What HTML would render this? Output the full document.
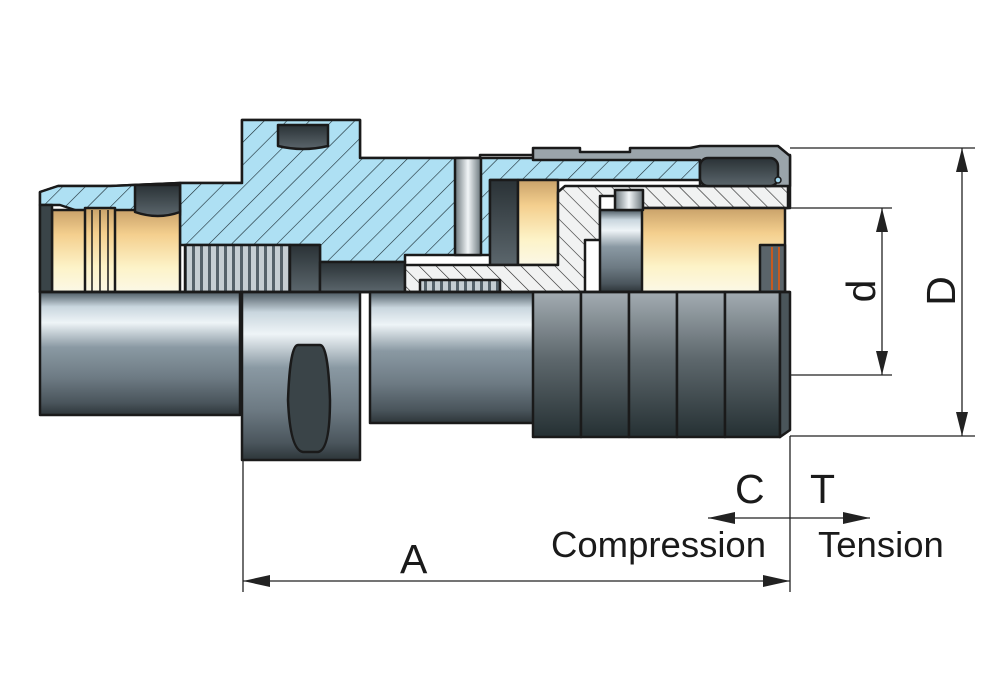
<!DOCTYPE html>
<html><head><meta charset="utf-8"><style>
html,body{margin:0;padding:0;background:#fff;width:1000px;height:694px;overflow:hidden}
svg{display:block}
text{font-family:"Liberation Sans",Arial,sans-serif;fill:#1a1a1a}
</style></head><body>
<svg width="1000" height="694" viewBox="0 0 1000 694" xmlns="http://www.w3.org/2000/svg">
<defs>
<linearGradient id="steel" x1="0" y1="0" x2="0" y2="1">
<stop offset="0" stop-color="#4d5a63"/><stop offset="0.12" stop-color="#c9d6de"/><stop offset="0.25" stop-color="#eef4f7"/><stop offset="0.45" stop-color="#8a99a3"/><stop offset="0.7" stop-color="#6d7a83"/><stop offset="0.9" stop-color="#4a555c"/><stop offset="1" stop-color="#2d3539"/></linearGradient>
<linearGradient id="dark" x1="0" y1="0" x2="0" y2="1">
<stop offset="0" stop-color="#a3acb2"/><stop offset="0.45" stop-color="#5f696e"/><stop offset="1" stop-color="#253033"/></linearGradient>
<linearGradient id="cream" x1="0" y1="0" x2="0" y2="1">
<stop offset="0" stop-color="#c9a26a"/><stop offset="0.3" stop-color="#f4cf8e"/><stop offset="0.7" stop-color="#fdf3c8"/><stop offset="1" stop-color="#fbf8e6"/></linearGradient>
<linearGradient id="pin" x1="0" y1="0" x2="1" y2="0">
<stop offset="0" stop-color="#6a757b"/><stop offset="0.5" stop-color="#f2f6f8"/><stop offset="1" stop-color="#6a757b"/></linearGradient>
<linearGradient id="blk" x1="0" y1="0" x2="0" y2="1">
<stop offset="0" stop-color="#2a3236"/><stop offset="1" stop-color="#5b666c"/></linearGradient>
<pattern id="hb" width="16" height="16" patternUnits="userSpaceOnUse" patternTransform="rotate(45)">
<rect width="16" height="16" fill="#aee0f3"/><line x1="0" y1="0" x2="0" y2="16" stroke="#1a2a30" stroke-width="1.2"/></pattern>
<pattern id="hw" width="12" height="12" patternUnits="userSpaceOnUse" patternTransform="rotate(-45)">
<rect width="12" height="12" fill="#f1f2f2"/><line x1="0" y1="0" x2="0" y2="12" stroke="#222" stroke-width="1.2"/></pattern>
<pattern id="knurl" width="8" height="10" patternUnits="userSpaceOnUse">
<rect width="8" height="10" fill="#c5ced3"/><rect x="0" width="3" height="10" fill="#55626a"/></pattern>
</defs>
<g stroke="#1a1a1a" stroke-width="2.5" stroke-linejoin="round">
<path d="M40 192 L58 186 L110 186 L180 183 L242 183 L242 120 L360 120 L360 158 L480 158 L480 155 L790 155 L790 208 L640 208 L640 292 L40 292 Z" fill="#fff"/>
<path d="M180 183 L242 183 L242 120 L360 120 L360 158 L700 158 L700 180 L490 180 L490 255 L405 255 L405 262 L320 262 L320 245 L180 245 Z" fill="url(#hb)"/>
<path d="M40 192 L58 186 L110 186 L180 183 L180 215 L90 215 L60 205 L40 205 Z" fill="url(#hb)"/>
<rect x="52" y="210" width="128" height="82" fill="url(#cream)"/>
<rect x="40" y="205" width="12" height="87" fill="#3a4448"/>
<rect x="85" y="208" width="30" height="84" fill="url(#cream)"/>
<line x1="92" y1="210" x2="92" y2="292" stroke-width="1.5"/><line x1="100" y1="210" x2="100" y2="292" stroke-width="1.5"/><line x1="108" y1="210" x2="108" y2="292" stroke-width="1.5"/>
<path d="M135 185 L180 185 L180 212 Q158 220 135 212 Z" fill="url(#blk)"/>
<path d="M278 125 L328 125 L328 146 Q303 152 278 146 Z" fill="url(#blk)"/>
<rect x="185" y="245" width="105" height="47" fill="url(#knurl)"/>
<rect x="290" y="245" width="30" height="47" fill="url(#blk)"/>
<rect x="320" y="262" width="85" height="30" fill="url(#blk)"/>
<rect x="455" y="158" width="26" height="97" fill="url(#pin)"/>
<rect x="490" y="180" width="28" height="85" fill="url(#blk)"/>
<rect x="518" y="180" width="40" height="85" fill="url(#cream)"/>
<path d="M405 265 L558 265 L558 192 L565 186 L788 186 L788 208 L640 208 L640 196 L600 196 L600 240 L585 240 L585 292 L405 292 Z" fill="url(#hw)"/>
<rect x="420" y="280" width="80" height="12" fill="url(#knurl)"/>
<path d="M533 148 L580 148 L580 152 L630 152 L630 148 L690 148 L700 146 L778 146 L790 156 L790 186 L700 186 L700 160 L533 160 Z" fill="#9aa4aa"/>
<rect x="700" y="158" width="78" height="28" rx="8" fill="url(#blk)"/>
<circle cx="778" cy="180" r="3" fill="#9fd6ee" stroke-width="1.5"/>
<rect x="640" y="208" width="145" height="84" fill="url(#cream)"/>
<rect x="600" y="210" width="42" height="82" fill="url(#steel)"/>
<rect x="615" y="190" width="28" height="20" fill="url(#pin)"/>
<rect x="760" y="245" width="25" height="47" fill="#5a646a"/>
<line x1="772" y1="247" x2="772" y2="290" stroke="#c85a20" stroke-width="2"/><line x1="779" y1="247" x2="779" y2="290" stroke="#c85a20" stroke-width="2"/>
<rect x="40" y="292" width="200" height="123" fill="url(#steel)"/>
<rect x="242" y="292" width="118" height="168" fill="url(#steel)"/>
<path d="M298 345 Q290 345 288 400 Q290 450 303 452 L318 452 Q330 450 330 400 Q328 345 320 345 Z" fill="#3a4448"/>
<rect x="370" y="292" width="165" height="131" fill="url(#steel)"/>
<rect x="533" y="292" width="48" height="145" fill="url(#dark)"/>
<rect x="581" y="292" width="48" height="145" fill="url(#dark)"/>
<rect x="629" y="292" width="48" height="145" fill="url(#dark)"/>
<rect x="677" y="292" width="48" height="145" fill="url(#dark)"/>
<rect x="725" y="292" width="55" height="145" fill="url(#dark)"/>
<path d="M780 292 L790 292 L790 430 L780 437 Z" fill="#4a555a"/>
<line x1="40" y1="292" x2="790" y2="292"/>
</g>
<g stroke="#222" stroke-width="1.3" fill="#222">
<line x1="790" y1="148" x2="975" y2="148"/><line x1="790" y1="436" x2="975" y2="436"/>
<line x1="790" y1="208" x2="892" y2="208"/><line x1="790" y1="375" x2="892" y2="375"/>
<line x1="962" y1="148" x2="962" y2="436"/><line x1="882" y1="208" x2="882" y2="375"/>
<path d="M962 148 L956 172 L968 172 Z" stroke="none"/><path d="M962 436 L956 412 L968 412 Z" stroke="none"/>
<path d="M882 208 L876 232 L888 232 Z" stroke="none"/><path d="M882 375 L876 351 L888 351 Z" stroke="none"/>
<line x1="243" y1="460" x2="243" y2="592"/><line x1="790" y1="436" x2="790" y2="592"/>
<line x1="243" y1="581" x2="790" y2="581"/>
<path d="M243 581 L270 575 L270 587 Z" stroke="none"/><path d="M790 581 L763 575 L763 587 Z" stroke="none"/>
<line x1="708" y1="518" x2="870" y2="518"/>
<path d="M708 518 L735 512 L735 524 Z" stroke="none"/><path d="M870 518 L843 512 L843 524 Z" stroke="none"/>
</g>
<text x="400" y="573" font-size="41">A</text>
<text x="735" y="503" font-size="41">C</text>
<text x="810" y="503" font-size="41">T</text>
<text x="551" y="557" font-size="36.5">Compression</text>
<text x="818" y="557" font-size="36.5">Tension</text>
<text transform="translate(875,291) rotate(-90)" font-size="41" text-anchor="middle">d</text>
<text transform="translate(955,291) rotate(-90)" font-size="41" text-anchor="middle">D</text>
</svg>
</body></html>
